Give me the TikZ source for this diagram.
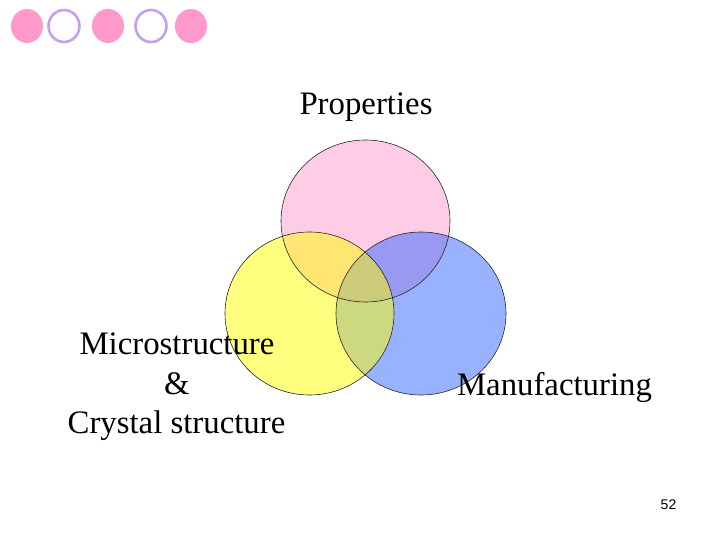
\documentclass[tikz,border=0pt]{standalone}
\usepackage{fontspec}
\setmainfont{Liberation Serif}
\newfontfamily\numfont{Liberation Sans}
\definecolor{dotpink}{HTML}{FF99CC}
\definecolor{ringpurple}{HTML}{C3A0F0}
\definecolor{cpink}{HTML}{FF99CC}
\definecolor{cyellow}{HTML}{FFFF00}
\definecolor{cblue}{HTML}{3366FF}
\tikzset{
  dot/.style={fill=dotpink, draw=none},
  ring/.style={draw=ringpurple, line width=2.6pt, fill=white},
  venn/.style={fill opacity=0.5, draw=none},
  vennline/.style={draw=black!85, line width=0.6pt},
  lbl/.style={font=\fontsize{32.8}{34}\selectfont, inner sep=0pt, align=center}
}
\begin{document}
\begin{tikzpicture}[x=1pt,y=-1pt]
\useasboundingbox (0,0) rectangle (720,540);
% decorative dots
\fill[dot] (27,26) ellipse [x radius=16, y radius=17];
\draw[ring] (64,26) ellipse [x radius=15.5, y radius=16];
\fill[dot] (108,26) ellipse [x radius=16, y radius=17];
\draw[ring] (151,26) ellipse [x radius=15.5, y radius=16];
\fill[dot] (191,26) ellipse [x radius=16, y radius=17];
% venn circles
\coordinate (cp) at (365.5,221);
\coordinate (cy) at (309.5,313.5);
\coordinate (cb) at (421,313.5);
\fill[venn, fill=cpink] (cp) ellipse [x radius=84.5, y radius=81];
\fill[venn, fill=cblue] (cb) ellipse [x radius=85, y radius=81.5];
\fill[venn, fill=cyellow] (cy) ellipse [x radius=84.5, y radius=81.5];
\draw[vennline] (cp) ellipse [x radius=84.5, y radius=81];
\draw[vennline] (cb) ellipse [x radius=85, y radius=81.5];
\draw[vennline] (cy) ellipse [x radius=84.5, y radius=81.5];
% labels
\node[lbl, anchor=base] (prop) at (366,115) {Properties};
\node[lbl, anchor=base] (micro) at (177,354) {Microstructure};
\node[lbl, anchor=base] (amp) at (177,394) {\&};
\node[lbl, anchor=base] (cryst) at (176.5,433) {Crystal structure};
\node[lbl, anchor=base] (manu) at (554.5,395) {Manufacturing};
\node[anchor=base, inner sep=0pt, font=\numfont\fontsize{14}{16}\selectfont] (num) at (668.5,509) {52};
\end{tikzpicture}
\end{document}
